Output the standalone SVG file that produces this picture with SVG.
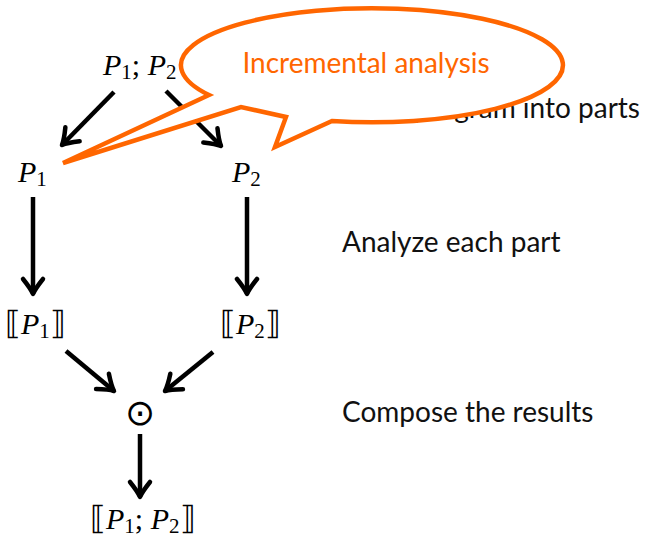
<svg xmlns="http://www.w3.org/2000/svg" width="646" height="540" viewBox="0 0 646 540">
  <style>
    .m { font-family: "Liberation Serif", "DejaVu Serif", serif; font-size: 30px; fill: #000; }
    .i { font-style: italic; }
    .s { font-size: 21px; }
    .br { font-family: "DejaVu Serif", serif; font-size: 32px; }
    .lbl { font-family: Lato, "Open Sans", sans-serif; font-size: 28px; fill: #111; }
    .conn { stroke: #000; stroke-width: 4.5; fill: none; }
    .callout { fill: #fff; stroke: #FF6600; stroke-width: 4.5; stroke-linejoin: miter; }
    .ct { font-family: Lato, "Open Sans", sans-serif; font-size: 28px; fill: #FF6600; }
  </style>
  <defs>
    <marker id="ah" markerUnits="userSpaceOnUse" markerWidth="34" markerHeight="34" viewBox="-22 -17 34 34" refX="0" refY="0" orient="auto">
      <path d="M -15,-10 Q -5,-2 0,0 Q -5,2 -15,10" fill="none" stroke="#000" stroke-width="4.5" stroke-linecap="round" stroke-linejoin="round"/>
    </marker>
  </defs>
  <rect width="646" height="540" fill="#fff"/>

  <g id="labels">
    <text class="lbl" x="640" y="118" text-anchor="end">Split program into parts</text>
    <text class="lbl" x="342" y="252">Analyze each part</text>
    <text class="lbl" x="342" y="422">Compose the results</text>
  </g>

  <g id="connectors">
    <line class="conn" x1="114" y1="92" x2="62" y2="145" marker-end="url(#ah)"/>
    <line class="conn" x1="166" y1="91" x2="221" y2="146" marker-end="url(#ah)"/>
    <line class="conn" x1="33" y1="197" x2="33" y2="294" marker-end="url(#ah)"/>
    <line class="conn" x1="247" y1="197" x2="247" y2="294" marker-end="url(#ah)"/>
    <line class="conn" x1="66" y1="351" x2="114" y2="391" marker-end="url(#ah)"/>
    <line class="conn" x1="213" y1="352" x2="165" y2="391" marker-end="url(#ah)"/>
    <line class="conn" x1="140" y1="434" x2="140" y2="497" marker-end="url(#ah)"/>
  </g>

  <g id="node-p1p2">
    <text class="m" x="103" y="75"><tspan class="i">P</tspan><tspan class="s" dy="4">1</tspan><tspan dy="-4">; </tspan><tspan class="i">P</tspan><tspan class="s" dy="4">2</tspan></text>
  </g>
  <g id="node-p1">
    <text class="m" x="18" y="182"><tspan class="i">P</tspan><tspan class="s" dy="4">1</tspan></text>
  </g>
  <g id="node-p2">
    <text class="m" x="232" y="182"><tspan class="i">P</tspan><tspan class="s" dy="4">2</tspan></text>
  </g>
  <g id="node-sem-p1">
    <text class="m" x="5" y="334"><tspan class="br">⟦</tspan><tspan class="i">P</tspan><tspan class="s" dy="4">1</tspan><tspan class="br" dy="-4">⟧</tspan></text>
  </g>
  <g id="node-sem-p2">
    <text class="m" x="220" y="334"><tspan class="br">⟦</tspan><tspan class="i">P</tspan><tspan class="s" dy="4">2</tspan><tspan class="br" dy="-4">⟧</tspan></text>
  </g>
  <g id="node-compose">
    <text x="140" y="425" text-anchor="middle" style="font-family:'DejaVu Sans',sans-serif;font-weight:200;font-size:36px;fill:#000">⊙</text>
  </g>
  <g id="node-sem-p1p2">
    <text class="m" x="90" y="529"><tspan class="br">⟦</tspan><tspan class="i">P</tspan><tspan class="s" dy="4">1</tspan><tspan dy="-4">; </tspan><tspan class="i">P</tspan><tspan class="s" dy="4">2</tspan><tspan class="br" dy="-4">⟧</tspan></text>
  </g>

  <g id="callout">
    <path class="callout" d="M 332,121 A 191,57 0 1 0 209,95 L 63,163 L 241,107 L 286,117 L 275,147 Z"/>
    <text class="ct" x="366" y="73" text-anchor="middle">Incremental analysis</text>
  </g>
</svg>
